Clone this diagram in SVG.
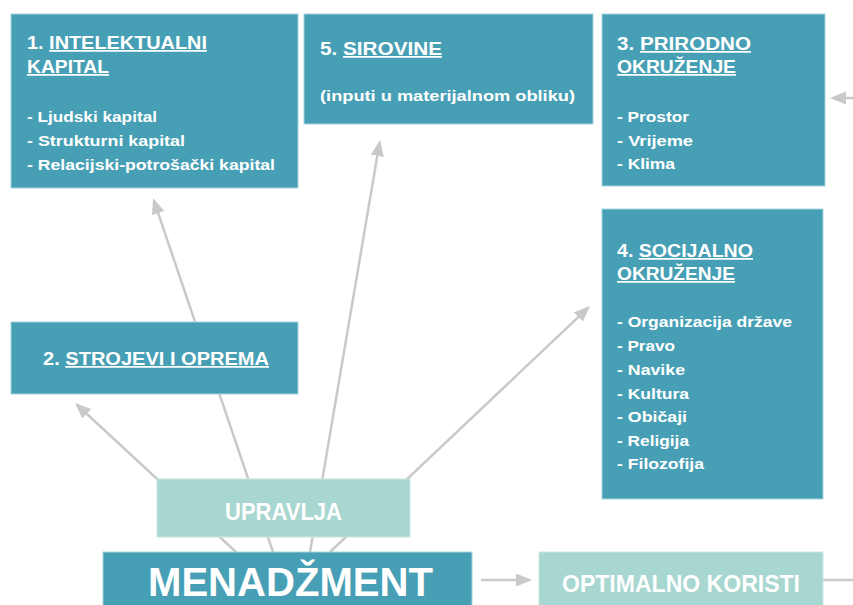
<svg xmlns="http://www.w3.org/2000/svg" width="853" height="605" viewBox="0 0 853 605">
<style>
.box{fill:#479fb5;stroke:#a6d3de;stroke-width:1}
.lbox{fill:#a8d6d0;stroke:#c9e6e2;stroke-width:1}
.con{stroke:#c9c9c9;stroke-width:2.5;fill:none}
.t{fill:#ffffff;font-family:"Liberation Sans",Arial,sans-serif;font-weight:bold}
.h{font-size:17.5px}
.b{font-size:14.5px}
.u{text-decoration:underline}
.big{font-size:23px}
</style>
<defs>
<marker id="ah" markerUnits="userSpaceOnUse" markerWidth="17" markerHeight="14" refX="13" refY="6.5" orient="auto">
<path d="M0,0 L16,6.5 L0,13 z" fill="#c9c9c9"/>
</marker>
</defs>
<rect x="0" y="0" width="853" height="605" fill="#ffffff"/>
<g id="connectors">
<line class="con" x1="236" y1="552" x2="77.2" y2="405" marker-end="url(#ah)"/>
<line class="con" x1="273" y1="552" x2="154" y2="200.8" marker-end="url(#ah)"/>
<line class="con" x1="310" y1="552" x2="379.5" y2="143" marker-end="url(#ah)"/>
<line class="con" x1="330" y1="552" x2="587.8" y2="308.1" marker-end="url(#ah)"/>
<line class="con" x1="481" y1="580" x2="529" y2="580" marker-end="url(#ah)"/>
<line class="con" x1="823" y1="580" x2="853" y2="580"/>
<line class="con" x1="853" y1="98" x2="833" y2="98" marker-end="url(#ah)"/>
</g>
<g id="n1">
<rect class="box" x="11" y="14" width="287" height="174"/>
<text class="t h" x="27" y="49" textLength="180" lengthAdjust="spacingAndGlyphs">1. <tspan class="u">INTELEKTUALNI</tspan></text>
<text class="t h u" x="27" y="73" textLength="82" lengthAdjust="spacingAndGlyphs">KAPITAL</text>
<text class="t b" x="27" y="122" textLength="130" lengthAdjust="spacingAndGlyphs">- Ljudski kapital</text>
<text class="t b" x="27" y="146" textLength="158" lengthAdjust="spacingAndGlyphs">- Strukturni kapital</text>
<text class="t b" x="27" y="170" textLength="248" lengthAdjust="spacingAndGlyphs">- Relacijski-potrošački kapital</text>
</g>
<g id="n5">
<rect class="box" x="304" y="14" width="289" height="110"/>
<text class="t h" x="320" y="55" textLength="122" lengthAdjust="spacingAndGlyphs">5. <tspan class="u">SIROVINE</tspan></text>
<text class="t b" x="320" y="101" textLength="255" lengthAdjust="spacingAndGlyphs">(inputi u materijalnom obliku)</text>
</g>
<g id="n3">
<rect class="box" x="602" y="14" width="223" height="172"/>
<text class="t h" x="617" y="50" textLength="134" lengthAdjust="spacingAndGlyphs">3. <tspan class="u">PRIRODNO</tspan></text>
<text class="t h u" x="617" y="73" textLength="119" lengthAdjust="spacingAndGlyphs">OKRUŽENJE</text>
<text class="t b" x="617" y="122" textLength="72" lengthAdjust="spacingAndGlyphs">- Prostor</text>
<text class="t b" x="617" y="146" textLength="76" lengthAdjust="spacingAndGlyphs">- Vrijeme</text>
<text class="t b" x="617" y="169" textLength="58" lengthAdjust="spacingAndGlyphs">- Klima</text>
</g>
<g id="n4">
<rect class="box" x="602" y="209" width="221" height="290"/>
<text class="t h" x="617" y="257" textLength="136" lengthAdjust="spacingAndGlyphs">4. <tspan class="u">SOCIJALNO</tspan></text>
<text class="t h u" x="617" y="280" textLength="118" lengthAdjust="spacingAndGlyphs">OKRUŽENJE</text>
<text class="t b" x="617" y="327" textLength="175" lengthAdjust="spacingAndGlyphs">- Organizacija države</text>
<text class="t b" x="617" y="351" textLength="58" lengthAdjust="spacingAndGlyphs">- Pravo</text>
<text class="t b" x="617" y="375" textLength="68" lengthAdjust="spacingAndGlyphs">- Navike</text>
<text class="t b" x="617" y="399" textLength="72" lengthAdjust="spacingAndGlyphs">- Kultura</text>
<text class="t b" x="617" y="422" textLength="70" lengthAdjust="spacingAndGlyphs">- Običaji</text>
<text class="t b" x="617" y="446" textLength="72" lengthAdjust="spacingAndGlyphs">- Religija</text>
<text class="t b" x="617" y="469" textLength="87" lengthAdjust="spacingAndGlyphs">- Filozofija</text>
</g>
<g id="n2">
<rect class="box" x="11" y="322" width="287" height="72"/>
<text class="t h" x="43" y="365" textLength="226" lengthAdjust="spacingAndGlyphs">2. <tspan class="u">STROJEVI I OPREMA</tspan></text>
</g>
<g id="upravlja">
<rect class="lbox" x="157" y="479" width="253" height="58"/>
<text class="t big" x="225" y="520" textLength="117" lengthAdjust="spacingAndGlyphs">UPRAVLJA</text>
</g>
<g id="menadzment">
<rect class="box" x="103" y="552" width="369" height="60"/>
<text class="t" x="148" y="596" font-size="41" font-weight="normal" textLength="285" lengthAdjust="spacingAndGlyphs">MENADŽMENT</text>
</g>
<g id="koristi">
<rect class="lbox" x="539" y="552" width="284" height="60"/>
<text class="t big" x="562" y="592" textLength="238" lengthAdjust="spacingAndGlyphs">OPTIMALNO KORISTI</text>
</g>
</svg>
